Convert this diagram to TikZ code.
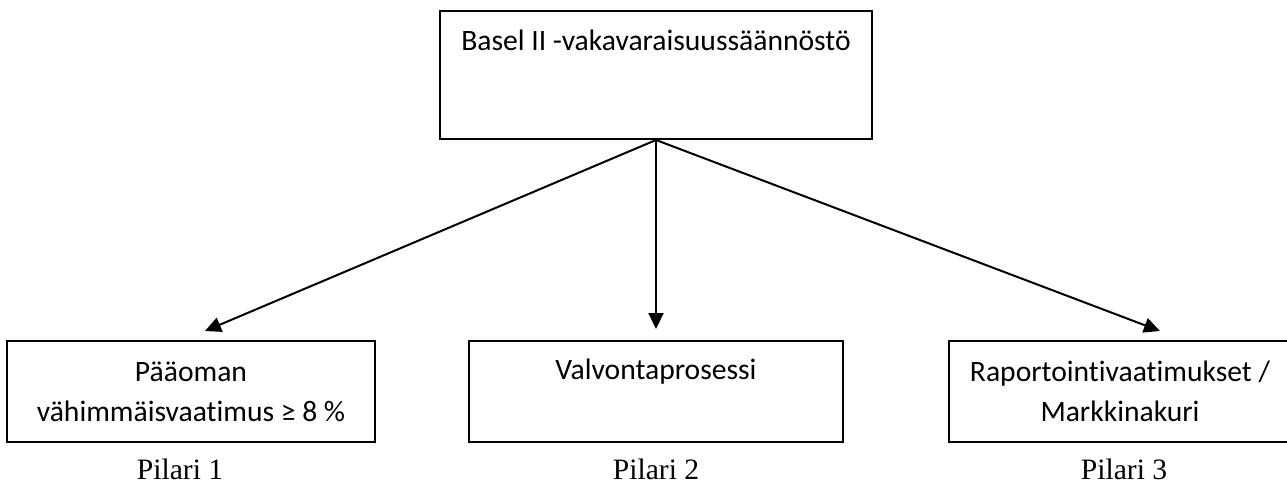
\documentclass[tikz,border=0pt]{standalone}
\usepackage{fontspec}
\setmainfont{Liberation Serif}
\newfontfamily\calibri[Ligatures=NoCommon]{Carlito}
\usepackage{tikz}
\usetikzlibrary{arrows.meta,positioning}

\begin{document}
\begin{tikzpicture}[
  node distance=100pt and 46pt,
  box/.style={draw,line width=1pt,align=center,inner sep=0pt,
    minimum height=50.5pt,font=\calibri\fontsize{14.8}{20}\selectfont},
  pillar/.style={inner sep=0pt,text depth=0pt,font=\fontsize{14.8}{17}\selectfont},
  arr/.style={-{Triangle[length=8pt,width=7.5pt]},line width=1pt}
]
\useasboundingbox (0,0) rectangle (643.5pt,-241.5pt);
\node[box,minimum width=216pt,text height=19.5pt,text depth=44.5pt] (basel) at (328pt,-37.5pt) {Basel II -vakavaraisuuss\"a\"ann\"ost\"o};
\node[box,below=of basel,minimum width=187pt,text height=19pt,text depth=31.5pt] (pil2) {Valvontaprosessi};
\node[box,left=of pil2,minimum width=184pt] (pil1) {P\"a\"aoman\\v\"ahimm\"aisvaatimus ≥ 8 \%};
\node[box,right=52pt of pil2,minimum width=171pt] (pil3) {Raportointivaatimukset /\\Markkinakuri};
\node[pillar,below=8pt of pil1,xshift=-5.5pt] (lab1) {Pilari 1};
\node[pillar,below=8pt of pil2] (lab2) {Pilari 2};
\node[pillar,below=8pt of pil3,xshift=2pt] (lab3) {Pilari 3};
\draw[arr] (basel.south) -- ([xshift=7pt,yshift=4.5pt]pil1.north);
\draw[arr] (basel.south) -- ([yshift=5.5pt]pil2.north -| basel.south);
\draw[arr] (basel.south) -- ([xshift=20pt,yshift=4.5pt]pil3.north);
\end{tikzpicture}
\end{document}
